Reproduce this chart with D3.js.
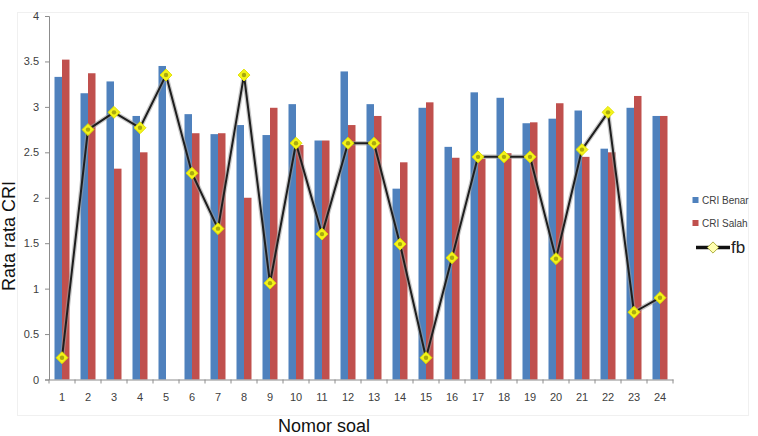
<!DOCTYPE html>
<html>
<head>
<meta charset="utf-8">
<script src="https://cdn.jsdelivr.net/npm/d3@7"></script>
<style>
  html, body { margin: 0; padding: 0; background: #ffffff; }
  svg { display: block; }
</style>
</head>
<body>
<svg id="chart" width="758" height="436"></svg>
<script>
const categories = ["1","2","3","4","5","6","7","8","9","10","11","12","13","14","15","16","17","18","19","20","21","22","23","24"];
const criBenar = [3.33,3.15,3.28,2.90,3.45,2.92,2.70,2.80,2.69,3.03,2.63,3.39,3.03,2.10,2.99,2.56,3.16,3.10,2.82,2.87,2.96,2.54,2.99,2.90];
const criSalah = [3.52,3.37,2.32,2.50,0,2.71,2.71,2.00,2.99,2.58,2.63,2.80,2.90,2.39,3.05,2.44,2.43,2.49,2.83,3.04,2.45,2.50,3.12,2.90];
const fb = [0.24,2.75,2.94,2.77,3.35,2.27,1.66,3.35,1.06,2.60,1.60,2.60,2.60,1.49,0.24,1.34,2.45,2.45,2.45,1.33,2.53,2.94,0.74,0.90];
const yTicks = [0,0.5,1,1.5,2,2.5,3,3.5,4];
const yTickLabels = ["0","0.5","1","1.5","2","2.5","3","3.5","4"];
const seriesNames = ["CRI Benar","CRI Salah"];
const seriesColors = ["#4F81BD","#C0504D"];
const lineName = "fb";

const svg = d3.select("#chart");
const mLeft = 49, mRight = 673, mTop = 16, mBottom = 379.5;

// faint chart-area frame
svg.append("rect").attr("x",17.5).attr("y",12.5).attr("width",731).attr("height",403)
  .attr("fill","#ffffff").attr("stroke","#f0f0f0").attr("stroke-width",1);

const x = d3.scaleBand().domain(categories).range([mLeft, mRight]).paddingInner(0).paddingOuter(0);
const xs = d3.scaleBand().domain(seriesNames).range([0, x.bandwidth()]).paddingInner(0).paddingOuter(0.733);
const y = d3.scaleLinear().domain([0,4]).range([mBottom, mTop]);

// bars
const seriesData = [criBenar, criSalah];
seriesData.forEach((vals, si) => {
  svg.append("g").selectAll("rect").data(vals).join("rect")
    .attr("x", (d,i) => x(categories[i]) + xs(seriesNames[si]))
    .attr("y", d => y(d))
    .attr("width", xs.bandwidth())
    .attr("height", d => y(0) - y(d))
    .attr("fill", seriesColors[si]);
});

// y axis
const yAxis = d3.axisLeft(y).tickValues(yTicks).tickFormat((d,i) => yTickLabels[i]).tickSize(4).tickPadding(6);
const gy = svg.append("g").attr("transform", `translate(${mLeft},0)`).call(yAxis);
gy.select(".domain").attr("stroke","#8c8c8c");
gy.selectAll(".tick line").attr("stroke","#8c8c8c");
gy.selectAll(".tick text").attr("fill","#404040").style("font-family","'Liberation Sans', Arial, sans-serif").style("font-size","11px");

// x axis
const xAxis = d3.axisBottom(x).tickSize(0).tickPadding(14);
const gx = svg.append("g").attr("transform", `translate(0,${mBottom})`).call(xAxis);
gx.select(".domain").attr("stroke","#8c8c8c");
gx.selectAll(".tick text").attr("fill","#404040").style("font-family","'Liberation Sans', Arial, sans-serif").style("font-size","11px");
// boundary tick marks
const bounds = categories.map(c => x(c)).concat([x(categories[categories.length-1]) + x.bandwidth()]);
svg.append("g").selectAll("line").data(bounds).join("line")
  .attr("x1", d => d).attr("x2", d => d)
  .attr("y1", mBottom).attr("y2", mBottom + 4)
  .attr("stroke","#8c8c8c");

// line
const cx = (d,i) => x(categories[i]) + x.bandwidth()/2;
const line = d3.line().x((d,i) => cx(d,i)).y(d => y(d));
svg.append("path").datum(fb).attr("d", line).attr("fill","none")
  .attr("stroke","#9a9a9a").attr("stroke-width",4.5).attr("stroke-opacity",0.55).attr("stroke-linejoin","round");
svg.append("path").datum(fb).attr("d", line).attr("fill","none")
  .attr("stroke","#1e1e1e").attr("stroke-width",2).attr("stroke-linejoin","round");

// markers
const diamond = d3.symbol().type(d3.symbolDiamond2).size(90);
const mg = svg.append("g").selectAll("g").data(fb).join("g")
  .attr("transform", (d,i) => `translate(${cx(d,i)},${y(d)})`);
mg.append("path").attr("d", diamond).attr("fill","#f4f41a").attr("stroke","#e0e000").attr("stroke-width",1);
mg.append("circle").attr("r",2.2).attr("fill","#a8a810");

// legend
const lg = svg.append("g").style("font-family","'Liberation Sans', Arial, sans-serif");
seriesNames.forEach((n, i) => {
  const ly = 197 + i*23;
  lg.append("rect").attr("x",692.5).attr("y",ly).attr("width",6).attr("height",6).attr("fill",seriesColors[i]);
  lg.append("text").attr("x",702).attr("y",ly+6.5).attr("fill","#404040").style("font-size","10px").text(n);
});
lg.append("line").attr("x1",696).attr("x2",730).attr("y1",247.5).attr("y2",247.5).attr("stroke","#111").attr("stroke-width",3.5);
lg.append("path").attr("d", d3.symbol().type(d3.symbolDiamond2).size(80)())
  .attr("transform","translate(713,247.5)").attr("fill","#ffffb0").attr("stroke","#b0b040").attr("stroke-width",1);
lg.append("text").attr("x",731).attr("y",253).attr("fill","#222").style("font-size","17px").text(lineName);

// axis titles
svg.append("text").attr("x",324).attr("y",432).attr("text-anchor","middle")
  .style("font-family","'Liberation Sans', Arial, sans-serif").style("font-size","18px").attr("fill","#111").text("Nomor soal");
svg.append("text").attr("transform","translate(15,236) rotate(-90)").attr("text-anchor","middle")
  .style("font-family","'Liberation Sans', Arial, sans-serif").style("font-size","18px").attr("fill","#111").text("Rata rata CRI");
</script>
</body>
</html>
